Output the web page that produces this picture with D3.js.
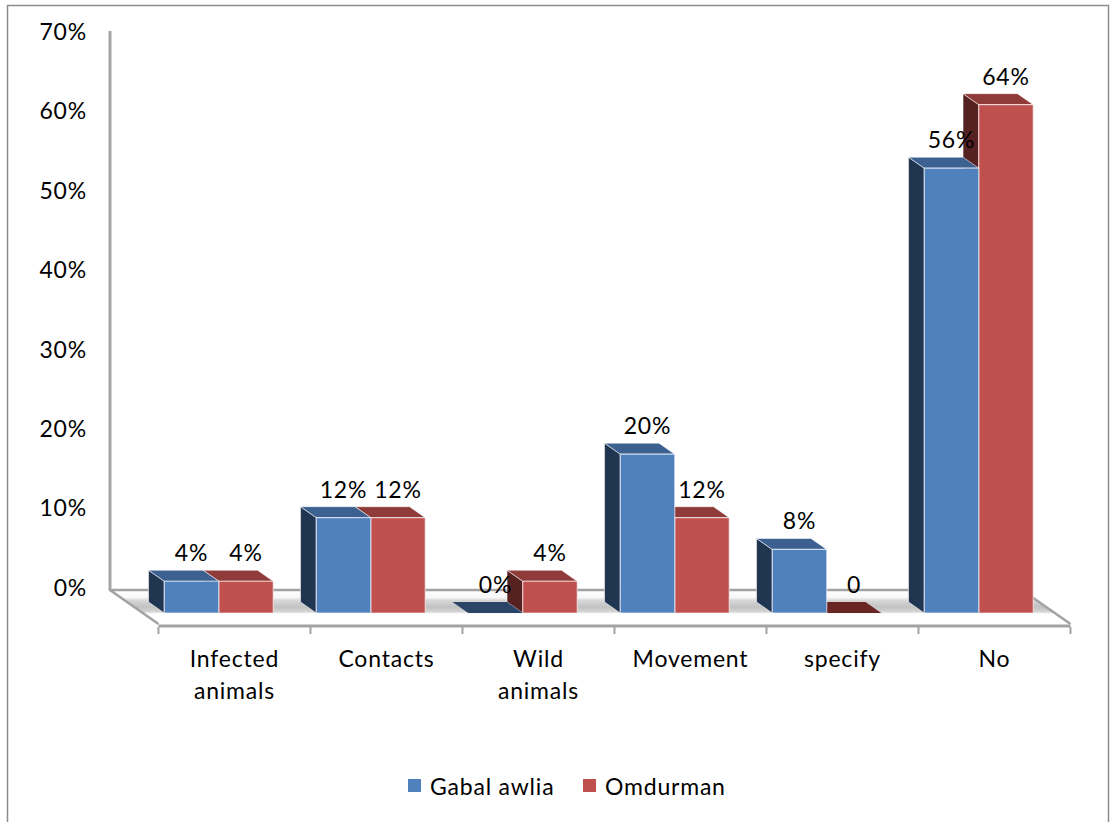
<!DOCTYPE html>
<html>
<head>
<meta charset="utf-8">
<script src="https://cdn.jsdelivr.net/npm/d3@7"></script>
<style>
  html, body { margin: 0; padding: 0; background: #fff; }
  svg { display: block; }
  text { font-family: Lato, "Open Sans", sans-serif; fill: #000; letter-spacing: 0.8px; }
</style>
</head>
<body>
<svg id="chart" width="1110" height="822"></svg>
<script>
// Data
const categories = ["Infected animals", "Contacts", "Wild animals", "Movement", "specify", "No"];
const seriesNames = ["Gabal awlia", "Omdurman"];
const gabalAwlia = [4, 12, 0, 20, 8, 56];
const omdurman = [4, 12, 4, 12, 0, 64];
const gabalLabels = ["4%", "12%", "0%", "20%", "8%", "56%"];
const omdurmanLabels = ["4%", "12%", "4%", "12%", "0", "64%"];
const yTicks = [0, 10, 20, 30, 40, 50, 60, 70];

const palette = {
  "Gabal awlia": { front: "#4F81BD", top: "#3C6090", side: "#1F3550", flat: "#2B4568" },
  "Omdurman":    { front: "#C0504D", top: "#8F3B39", side: "#552221", flat: "#6A2624" }
};
const FS = 23;

const svg = d3.select("#chart");

// Outer frame
svg.append("rect")
  .attr("x", 7.5).attr("y", 5.5).attr("width", 1101).attr("height", 830)
  .attr("fill", "none").attr("stroke", "#8c8c8c").attr("stroke-width", 1.5);

// Oblique projection: depth pushes points down and to the right
const K = 1.43;
const proj = (x, y, d) => [x + K * d, y + d];

const y = d3.scaleLinear().domain([0, 70]).range([588, 32]);
const x0 = d3.scaleBand().domain(categories).range([107, 1019])
  .paddingInner(0.283).paddingOuter(0.1415);
const x1 = d3.scaleBand().domain(seriesNames).range([0, x0.bandwidth()]);

const floorBack = 2, floorFront = 36;
const barBack = 14, barFront = 25;

// Floor gradient
const defs = svg.append("defs");
const grad = defs.append("linearGradient").attr("id", "floorGrad")
  .attr("x1", 0).attr("y1", 0).attr("x2", 0).attr("y2", 1);
[[0, "#ffffff"], [0.22, "#f7f7f7"], [0.3, "#d8d8d8"], [0.5, "#c2c2c2"],
 [0.64, "#d4d4d4"], [0.7, "#ffffff"], [1, "#ffffff"]]
  .forEach(([o, c]) => grad.append("stop").attr("offset", o).attr("stop-color", c));

const [xs, xe] = x0.range();
const floorPts = [proj(xs, y(0), floorBack), proj(xe, y(0), floorBack),
                  proj(xe, y(0), floorFront), proj(xs, y(0), floorFront)];
svg.append("polygon")
  .attr("points", floorPts.map(p => p.join(",")).join(" "))
  .attr("fill", "url(#floorGrad)");

const line = d3.line();
const gridStroke = "#a3a3a3";
// back edge and sides of the floor
svg.append("path").attr("d", line([floorPts[3], floorPts[0], floorPts[1], floorPts[2]]))
  .attr("fill", "none").attr("stroke", gridStroke).attr("stroke-width", 2.5)
  .attr("stroke-linejoin", "round");
// front edge of the floor
svg.append("line")
  .attr("x1", floorPts[3][0]).attr("x2", floorPts[2][0])
  .attr("y1", floorPts[3][1] + 2).attr("y2", floorPts[2][1] + 2)
  .attr("stroke", gridStroke).attr("stroke-width", 3);

// category ticks along the front edge
const tickXs = d3.range(categories.length + 1).map(i => xs + i * x0.step() + K * floorFront);
svg.selectAll("line.ctick").data(tickXs).join("line")
  .attr("class", "ctick")
  .attr("x1", d => d).attr("x2", d => d)
  .attr("y1", floorPts[3][1] + 3).attr("y2", floorPts[3][1] + 10)
  .attr("stroke", gridStroke).attr("stroke-width", 2);

// vertical axis line on the back wall
svg.append("line")
  .attr("x1", 110).attr("x2", 110).attr("y1", 31).attr("y2", 590)
  .attr("stroke", "#a6a6a6").attr("stroke-width", 3);

// y tick labels
const yAxis = svg.append("g").attr("transform", "translate(87,0)")
  .call(d3.axisLeft(y).tickValues(yTicks).tickSize(0).tickPadding(0)
    .tickFormat(d => d + "%"));
yAxis.select(".domain").remove();
yAxis.selectAll("text")
  .attr("font-family", "Lato, 'Open Sans', sans-serif")
  .attr("font-size", FS).attr("fill", "#000");

// Bars
const bars = [];
categories.forEach((c, i) => {
  bars.push({ cat: c, s: "Gabal awlia", v: gabalAwlia[i], label: gabalLabels[i] });
  bars.push({ cat: c, s: "Omdurman", v: omdurman[i], label: omdurmanLabels[i] });
});

const pts = a => a.map(p => p.join(",")).join(" ");
const barG = svg.append("g");
// painted from right to left so nearer faces cover farther ones
bars.slice().reverse().forEach(b => {
  const xl = x0(b.cat) + x1(b.s), xr = xl + x1.bandwidth();
  const yt = y(b.v), yb = y(0);
  const col = palette[b.s];
  const g = barG.append("g");
  if (b.v > 0) {
    g.append("polygon").attr("points", pts([proj(xl, yb, barBack), proj(xl, yt, barBack),
      proj(xl, yt, barFront), proj(xl, yb, barFront)]))
      .attr("fill", col.side).attr("stroke", "rgba(255,255,255,0.55)").attr("stroke-width", 1);
    g.append("polygon").attr("points", pts([proj(xl, yt, barBack), proj(xr, yt, barBack),
      proj(xr, yt, barFront), proj(xl, yt, barFront)]))
      .attr("fill", col.top).attr("stroke", "rgba(255,255,255,0.55)").attr("stroke-width", 1);
    g.append("polygon").attr("points", pts([proj(xl, yt, barFront), proj(xr, yt, barFront),
      proj(xr, yb, barFront), proj(xl, yb, barFront)]))
      .attr("fill", col.front).attr("stroke", "rgba(255,255,255,0.6)").attr("stroke-width", 1.2);
  } else {
    g.append("polygon").attr("points", pts([proj(xl, yt, barBack), proj(xr, yt, barBack),
      proj(xr, yt, barFront), proj(xl, yt, barFront)]))
      .attr("fill", col.flat);
  }
});

// value labels
svg.append("g").selectAll("text").data(bars).join("text")
  .attr("x", b => x0(b.cat) + x1(b.s) + x1.bandwidth() / 2 + K * barFront)
  .attr("y", b => y(b.v) + barFront - 29)
  .attr("text-anchor", "middle").attr("dominant-baseline", "central")
  .attr("font-size", FS)
  .text(b => b.label);

// category labels
const catG = svg.append("g");
categories.forEach(c => {
  const cx = x0(c) + x0.bandwidth() / 2 + K * floorFront;
  const t = catG.append("text").attr("text-anchor", "middle").attr("font-size", FS);
  c.split(" ").forEach((w, j) => {
    t.append("tspan").attr("x", cx).attr("y", 658 + j * 32)
      .attr("dominant-baseline", "central").text(w);
  });
});

// legend
const legendItems = [{ name: "Gabal awlia", x: 408 }, { name: "Omdurman", x: 583 }];
const lg = svg.append("g");
legendItems.forEach(it => {
  lg.append("rect").attr("x", it.x).attr("y", 779).attr("width", 13).attr("height", 13)
    .attr("fill", palette[it.name].front);
  lg.append("text").attr("x", it.x + 22).attr("y", 786)
    .attr("dominant-baseline", "central").attr("font-size", FS).text(it.name);
});
</script>
</body>
</html>
